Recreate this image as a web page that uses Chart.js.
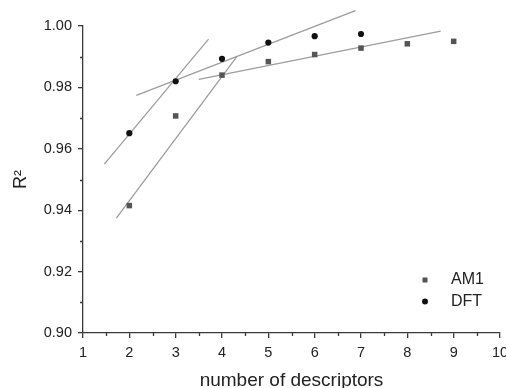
<!DOCTYPE html>
<html>
<head>
<meta charset="utf-8">
<script src="https://cdn.jsdelivr.net/npm/chart.js@4/dist/chart.umd.min.js"></script>
<style>
  html, body { margin: 0; padding: 0; background: #fff; overflow: hidden; }
  #wrap { width: 506px; height: 388px; }
</style>
</head>
<body>
<div id="wrap"><canvas id="r2Chart" width="506" height="388"></canvas></div>
<script>
// number of descriptors
const descriptors = [2, 3, 4, 5, 6, 7, 8, 9];
const am1Values = [0.9415, 0.9707, 0.9840, 0.9884, 0.9907, 0.9928, 0.9942, 0.9950];
const dftValues = [0.9651, 0.9820, 0.9893, 0.9946, 0.9967, 0.9974];
const seriesNames = ['AM1', 'DFT'];

// fitted trend lines, [x, y] endpoints
const dftSteepLine = [[1.46, 0.9550], [3.71, 0.9957]];
const dftFlatLine = [[2.15, 0.9774], [6.88, 1.0050]];
const am1SteepLine = [[1.72, 0.9374], [4.32, 0.9900]];
const am1FlatLine = [[3.50, 0.9826], [8.72, 0.9983]];

const xTicks = [1, 2, 3, 4, 5, 6, 7, 8, 9, 10];
const yTicks = [0.90, 0.92, 0.94, 0.96, 0.98, 1.00];

const axisColor = '#3a3a3a';
const textColor = '#222222';
const fontFamily = '"Liberation Sans", Arial, sans-serif';

function toPoints(xs, ys) {
    return ys.map((y, i) => ({ x: xs[i], y: y }));
}
function linePoints(pair) {
    return pair.map(p => ({ x: p[0], y: p[1] }));
}

function fitLine(pair) {
    return {
        type: 'line',
        data: linePoints(pair),
        borderColor: '#9d9d9d',
        borderWidth: 1.3,
        pointRadius: 0,
        fill: false,
        clip: false,
        order: 2
    };
}

// minor ticks halfway between the major ones
const minorTicks = {
    id: 'minorTicks',
    afterDraw(chart) {
        const ctx = chart.ctx;
        const xs = chart.scales.x;
        const ys = chart.scales.y;
        ctx.save();
        ctx.strokeStyle = axisColor;
        ctx.lineWidth = 1.3;
        ctx.beginPath();
        for (let i = 0; i < xTicks.length - 1; i++) {
            const px = Math.round(xs.getPixelForValue((xTicks[i] + xTicks[i + 1]) / 2)) + 0.5;
            ctx.moveTo(px, ys.bottom);
            ctx.lineTo(px, ys.bottom + 3);
        }
        for (let i = 0; i < yTicks.length - 1; i++) {
            const py = Math.round(ys.getPixelForValue((yTicks[i] + yTicks[i + 1]) / 2)) + 0.5;
            ctx.moveTo(xs.left, py);
            ctx.lineTo(xs.left - 3, py);
        }
        ctx.stroke();
        ctx.restore();
    }
};

// legend in lower right of plot
const cornerLegend = {
    id: 'cornerLegend',
    afterDraw(chart) {
        const ctx = chart.ctx;
        const area = chart.chartArea;
        const x0 = area.right - 75;
        const y0 = area.bottom - 53;
        ctx.save();
        ctx.font = '16px ' + fontFamily;
        ctx.textBaseline = 'middle';
        seriesNames.forEach((name, i) => {
            const ds = chart.data.datasets[i];
            const cy = y0 + i * 21.5;
            ctx.fillStyle = ds.backgroundColor;
            if (ds.pointStyle === 'rect') {
                ctx.fillRect(x0 - 2.5, cy - 2.5, 5, 5);
            } else {
                ctx.beginPath();
                ctx.arc(x0, cy, 3, 0, Math.PI * 2);
                ctx.fill();
            }
            ctx.fillStyle = textColor;
            ctx.fillText(name, x0 + 26, cy);
        });
        ctx.restore();
    }
};

const ctx = document.getElementById('r2Chart').getContext('2d');
new Chart(ctx, {
    type: 'scatter',
    data: {
        datasets: [
            {
                label: seriesNames[0],
                data: toPoints(descriptors, am1Values),
                pointStyle: 'rect',
                pointRadius: 3.9,
                backgroundColor: '#555555',
                borderColor: '#555555',
                borderWidth: 0,
                order: 1
            },
            {
                label: seriesNames[1],
                data: toPoints(descriptors, dftValues),
                pointStyle: 'circle',
                pointRadius: 3.1,
                backgroundColor: '#111111',
                borderColor: '#111111',
                borderWidth: 0,
                order: 1
            },
            fitLine(dftSteepLine),
            fitLine(dftFlatLine),
            fitLine(am1SteepLine),
            fitLine(am1FlatLine)
        ]
    },
    options: {
        responsive: false,
        animation: false,
        layout: { padding: { left: 0, top: 26, right: 6, bottom: 0 } },
        plugins: {
            legend: { display: false },
            tooltip: { enabled: false }
        },
        scales: {
            x: {
                type: 'linear',
                min: 1,
                max: 10,
                afterBuildTicks: s => { s.ticks = xTicks.map(v => ({ value: v })); },
                afterFit: s => { s.height = 55; s.paddingRight = 6; s.paddingLeft = 0; },
                border: { display: true, color: axisColor, width: 1.3 },
                grid: { drawOnChartArea: false, drawTicks: true, tickLength: 5, color: axisColor, lineWidth: 1.3 },
                ticks: {
                    padding: 6,
                    color: textColor,
                    font: { family: fontFamily, size: 14.5 },
                    maxRotation: 0,
                    callback: v => String(v)
                },
                title: {
                    display: true,
                    text: 'number of descriptors',
                    color: textColor,
                    font: { family: fontFamily, size: 19, lineHeight: 1 },
                    padding: { top: 0, bottom: -2 }
                }
            },
            y: {
                type: 'linear',
                min: 0.90,
                max: 1.00,
                afterBuildTicks: s => { s.ticks = yTicks.map(v => ({ value: v })); },
                afterFit: s => { s.width = 83; s.paddingTop = 0; s.paddingBottom = 0; },
                border: { display: true, color: axisColor, width: 1.3 },
                grid: { drawOnChartArea: false, drawTicks: true, tickLength: 5, color: axisColor, lineWidth: 1.3 },
                ticks: {
                    padding: 6,
                    color: textColor,
                    font: { family: fontFamily, size: 14.5 },
                    callback: v => v.toFixed(2)
                },
                title: {
                    display: true,
                    text: 'R²',
                    color: textColor,
                    font: { family: fontFamily, size: 18, lineHeight: 1.2 },
                    padding: { top: 10, bottom: 0 }
                }
            }
        }
    },
    plugins: [minorTicks, cornerLegend]
});
</script>
</body>
</html>
